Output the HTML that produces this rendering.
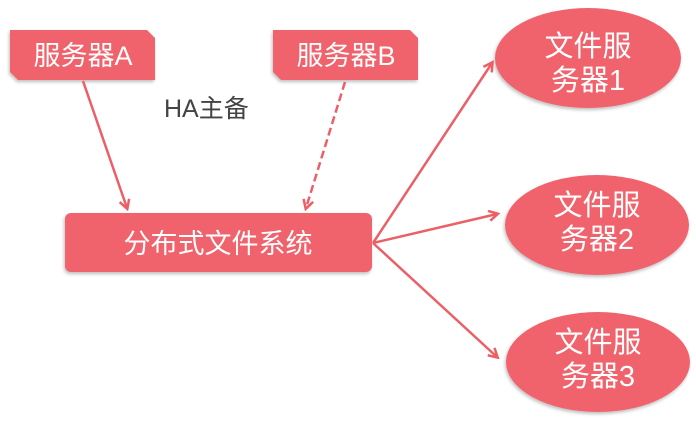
<!DOCTYPE html>
<html><head><meta charset="utf-8"><style>
body{margin:0;width:696px;height:419px;background:#fff;overflow:hidden}
</style></head><body>
<svg width="696" height="419" xmlns="http://www.w3.org/2000/svg" font-family="'Liberation Sans','Noto Sans CJK SC',sans-serif">
<defs>
<filter id="s" x="-10%" y="-10%" width="120%" height="130%"><feDropShadow dx="-1" dy="2" stdDeviation="1.5" flood-color="#000" flood-opacity="0.25"/></filter>
<marker id="ah" markerWidth="12" markerHeight="12" refX="9" refY="6" orient="auto" markerUnits="userSpaceOnUse"><path d="M1,1 L10,6 L1,11" fill="none" stroke="#ec5f67" stroke-width="2.5"/></marker>
</defs>
<g fill="#f0646c" filter="url(#s)">
<path d="M10,30 H147 L155,38 V80 H18 L10,72 Z"/>
<path d="M273,30 H410 L418,38 V80 H281 L273,72 Z"/>
<rect x="65" y="213" width="307" height="59" rx="6"/>
<ellipse cx="588" cy="58" rx="93" ry="50"/>
<ellipse cx="597" cy="225" rx="92" ry="50"/>
<ellipse cx="598" cy="362" rx="92" ry="50"/>
</g>
<g stroke="#ec5f67" stroke-width="2.5" fill="none" marker-end="url(#ah)">
<line x1="83" y1="81" x2="127" y2="208"/>
<line x1="345" y1="82" x2="306" y2="208" stroke-dasharray="8,4"/>
<line x1="373" y1="243" x2="492" y2="63"/>
<line x1="373" y1="243" x2="497" y2="214"/>
<line x1="373" y1="243" x2="497" y2="357"/>
</g>
<g fill="#fff" font-size="27" text-anchor="middle">
<text x="83" y="65">服务器A</text>
<text x="346" y="65">服务器B</text>
<text x="218" y="253">分布式文件系统</text>
</g>
<g fill="#fff" font-size="29" text-anchor="middle">
<text x="588" y="56">文件服</text><text x="588" y="90">务器1</text>
<text x="597" y="215">文件服</text><text x="597" y="249">务器2</text>
<text x="598" y="352">文件服</text><text x="598" y="386">务器3</text>
</g>
<text x="164" y="117" font-size="25" fill="#444">HA主备</text>
</svg>
</body></html>
